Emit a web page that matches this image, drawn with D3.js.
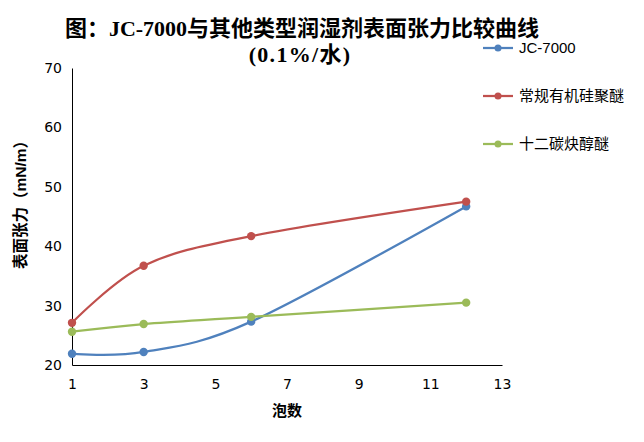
<!DOCTYPE html>
<html>
<head>
<meta charset="utf-8">
<script src="https://cdn.jsdelivr.net/npm/d3@7"></script>
<style>
  body { margin: 0; background: #fff; }
  text { font-family: "Liberation Sans", "Noto Sans CJK SC", sans-serif; }
</style>
</head>
<body>
<svg width="644" height="442"></svg>
<script>
// data
const foamCounts = [1, 3, 6, 12];
const seriesNames = ["JC-7000", "常规有机硅聚醚", "十二碳炔醇醚"];
const jc7000 = [21.9, 22.2, 27.3, 46.7];
const silicone = [27.1, 36.7, 41.7, 47.5];
const acetylenic = [25.6, 26.9, 28.1, 30.5];
const xTicks = [1, 3, 5, 7, 9, 11, 13];
const yTicks = [20, 30, 40, 50, 60, 70];
const colors = ["#4F81BD", "#C0504D", "#9BBB59"];

const svg = d3.select("svg");
const x = d3.scaleLinear().domain([1, 13]).range([72, 502]);
const y = d3.scaleLinear().domain([20, 70]).range([365, 68]);

// title
svg.append("text")
    .attr("x", 302).attr("y", 36)
    .attr("text-anchor", "middle")
    .style("font-family", "'Liberation Serif', 'Noto Sans CJK SC', serif")
    .style("font-weight", "bold").style("font-size", "22px")
    .text("图：JC-7000与其他类型润湿剂表面张力比较曲线");
svg.append("text")
    .attr("x", 300).attr("y", 62)
    .attr("text-anchor", "middle")
    .style("font-family", "'Liberation Serif', 'Noto Sans CJK SC', serif")
    .style("font-weight", "bold").style("font-size", "22px")
    .style("letter-spacing", "1.3px")
    .text("(0.1%/水)");

// axes
const yAxis = svg.append("g")
    .attr("transform", "translate(72,0)")
    .call(d3.axisLeft(y).tickValues(yTicks).tickSize(0).tickPadding(10));
const xAxis = svg.append("g")
    .attr("transform", "translate(0,365)")
    .call(d3.axisBottom(x).tickValues(xTicks).tickSize(0).tickPadding(14));
[xAxis, yAxis].forEach(g => {
    g.select(".domain").attr("stroke", "#000").attr("stroke-width", 1);
    g.selectAll("text").style("font-size", "14px").attr("fill", "#000")
        .style("font-family", "'DejaVu Sans', sans-serif");
});

svg.append("text")
    .attr("x", 287).attr("y", 416)
    .attr("text-anchor", "middle")
    .style("font-weight", "bold").style("font-size", "15px")
    .text("泡数");
svg.append("text")
    .attr("transform", "translate(26,201) rotate(-90)")
    .attr("text-anchor", "middle")
    .style("font-weight", "bold").style("font-size", "15.5px")
    .text("表面张力（mN/m）");

// lines
const allSeries = [jc7000, silicone, acetylenic];
const line = d3.line()
    .x((d, i) => x(foamCounts[i]))
    .y(d => y(d))
    .curve(d3.curveCardinal.tension(0));

allSeries.forEach((vals, s) => {
    svg.append("path")
        .datum(vals)
        .attr("d", line)
        .attr("fill", "none")
        .attr("stroke", colors[s])
        .attr("stroke-width", 2.25);
    svg.selectAll(".pt" + s)
        .data(vals).enter()
        .append("circle")
        .attr("cx", (d, i) => x(foamCounts[i]))
        .attr("cy", d => y(d))
        .attr("r", 4.2)
        .attr("fill", colors[s]);
});

// legend
const legend = svg.append("g")
    .selectAll("g")
    .data(seriesNames).enter()
    .append("g")
    .attr("transform", (d, i) => "translate(483," + (48 + i * 48) + ")");
legend.append("line")
    .attr("x1", 0).attr("x2", 30)
    .attr("stroke", (d, i) => colors[i]).attr("stroke-width", 2.25);
legend.append("circle")
    .attr("cx", 15).attr("r", 3.5)
    .attr("fill", (d, i) => colors[i]);
legend.append("text")
    .attr("x", 36).attr("y", 5)
    .style("font-size", "15px")
    .text(d => d);
</script>
</body>
</html>
